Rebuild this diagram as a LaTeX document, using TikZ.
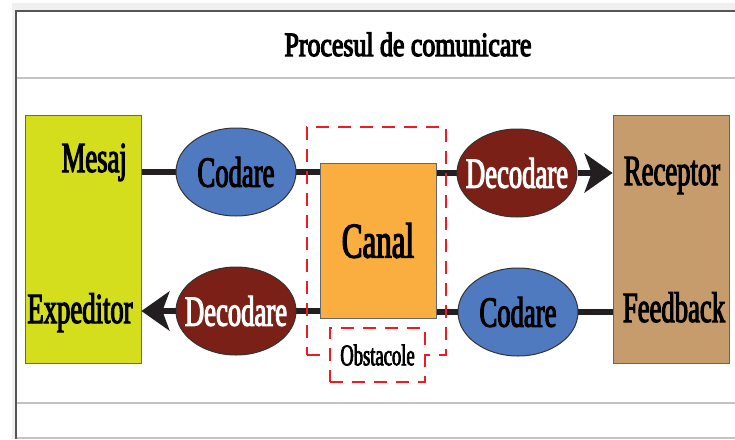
\documentclass[tikz,border=0pt]{standalone}
\usepackage{fontspec}
\usetikzlibrary{arrows.meta,shapes.geometric,calc}
\newfontfamily\labfont[FakeStretch=0.62,FakeBold=2.5]{Liberation Serif}
\newfontfamily\titfont[FakeStretch=0.76,FakeBold=3.5]{Liberation Serif}
\definecolor{ylwbox}{RGB}{213,222,29}
\definecolor{recbox}{RGB}{198,156,109}
\definecolor{codblue}{RGB}{80,122,192}
\definecolor{decred}{RGB}{122,32,23}
\definecolor{canalor}{RGB}{250,174,63}
\definecolor{obsred}{RGB}{237,28,36}
\definecolor{linek}{RGB}{35,31,32}
\definecolor{framegray}{RGB}{85,85,85}
\definecolor{sepgray}{RGB}{195,195,195}
\definecolor{outgray}{RGB}{240,240,240}
\pgfdeclarelayer{framelayer}
\pgfdeclarelayer{linelayer}
\pgfsetlayers{framelayer,linelayer,main}
\begin{document}
\begin{tikzpicture}[x=1pt,y=-1pt,
  lab/.style={font=\labfont\fontsize{43}{43}\selectfont, inner sep=0pt},
  bigbox/.style={draw=black!60, line width=0.8pt, minimum width=116pt, minimum height=248pt, inner sep=0pt},
  oval/.style={ellipse, draw=black!80, line width=1pt, minimum width=120pt, minimum height=88pt, inner sep=0pt},
  ovallab/.style 2 args={label={[lab, text=#1]center:#2}},
  conn/.style={draw=linek, line width=6pt},
  arr/.style={conn, -{Stealth[length=28pt, width=39pt, inset=7pt]}},
  obsdash/.style={draw=obsred, line width=2.6pt, dash pattern=on 13pt off 9pt}
]
\useasboundingbox (0,0) rectangle (735,439);
\begin{pgfonlayer}{framelayer}
  \fill[white] (0,0) rectangle (735,439);
  \fill[outgray] (12,3) rectangle (735,439);
  \fill[white] (16,11) rectangle (735,439);
  \draw[framegray, line width=2pt] (16,439) -- (16,11) -- (735,11);
  \draw[sepgray, line width=2pt] (17,78) -- (735,78);
  \draw[sepgray, line width=2.5pt] (17,403) -- (735,403);
  \draw[sepgray, line width=1.5pt] (17,438) -- (735,438);
\end{pgfonlayer}

\node[anchor=base, inner sep=0pt, font=\titfont\fontsize{34}{34}\selectfont] (title) at (408,56) {Procesul de comunicare};

\node[bigbox, fill=ylwbox] (exp) at (83,239) {};
\node[bigbox, fill=recbox] (rec) at (671,239) {};

\node[lab, anchor=base east] (mesaj) at (127,172) {Mesaj};
\node[lab, anchor=base] (expt) at (80,323) {Expeditor};
\node[lab, anchor=base] (rect) at (672,185) {Receptor};
\node[lab, anchor=base] (fb) at (674,322) {Feedback};

\node[obsdash, draw, minimum width=139pt, minimum height=228pt, inner sep=0pt] (obsouter) at (376.5,241) {};
\node[draw=black!60, line width=0.8pt, fill=canalor, minimum width=116pt, minimum height=155pt, inner sep=0pt, font=\labfont\fontsize{50}{50}\selectfont] (canal) at (378,240.5) {Canal};
\node[obsdash, draw, fill=white, minimum width=95pt, minimum height=54pt, inner sep=0pt, font=\labfont\fontsize{30}{30}\selectfont] (obst) at (377.5,355) {Obstacole};

\node[oval, fill=codblue, ovallab={black}{Codare}] (cod1) at (236,172) {};
\node[oval, fill=decred, ovallab={white}{Decodare}] (dec1) at (517,173) {};
\node[oval, fill=decred, ovallab={white}{Decodare}] (dec2) at (236,311) {};
\node[oval, fill=codblue, ovallab={black}{Codare}] (cod2) at (518,312) {};

\coordinate (mesend) at ($(mesaj.base east)+(6,0)$);
\coordinate (fbend) at (620,312);

\begin{pgfonlayer}{linelayer}
  \draw[conn] (mesend) -- (cod1.center);
  \draw[conn] (cod1.center) -- (cod1.center -| canal.center);
  \draw[conn] (dec1.center -| canal.center) -- (dec1.center);
  \draw[conn] (fbend) -- (cod2.center);
  \draw[conn] (cod2.center) -- (cod2.center -| canal.center);
  \draw[conn] (dec2.center -| canal.center) -- (dec2.center);
\end{pgfonlayer}
\draw[arr] (dec1.east) -- (dec1.east -| rec.west);
\draw[arr] (dec2.west) -- (dec2.west -| exp.east);
\end{tikzpicture}
\end{document}
